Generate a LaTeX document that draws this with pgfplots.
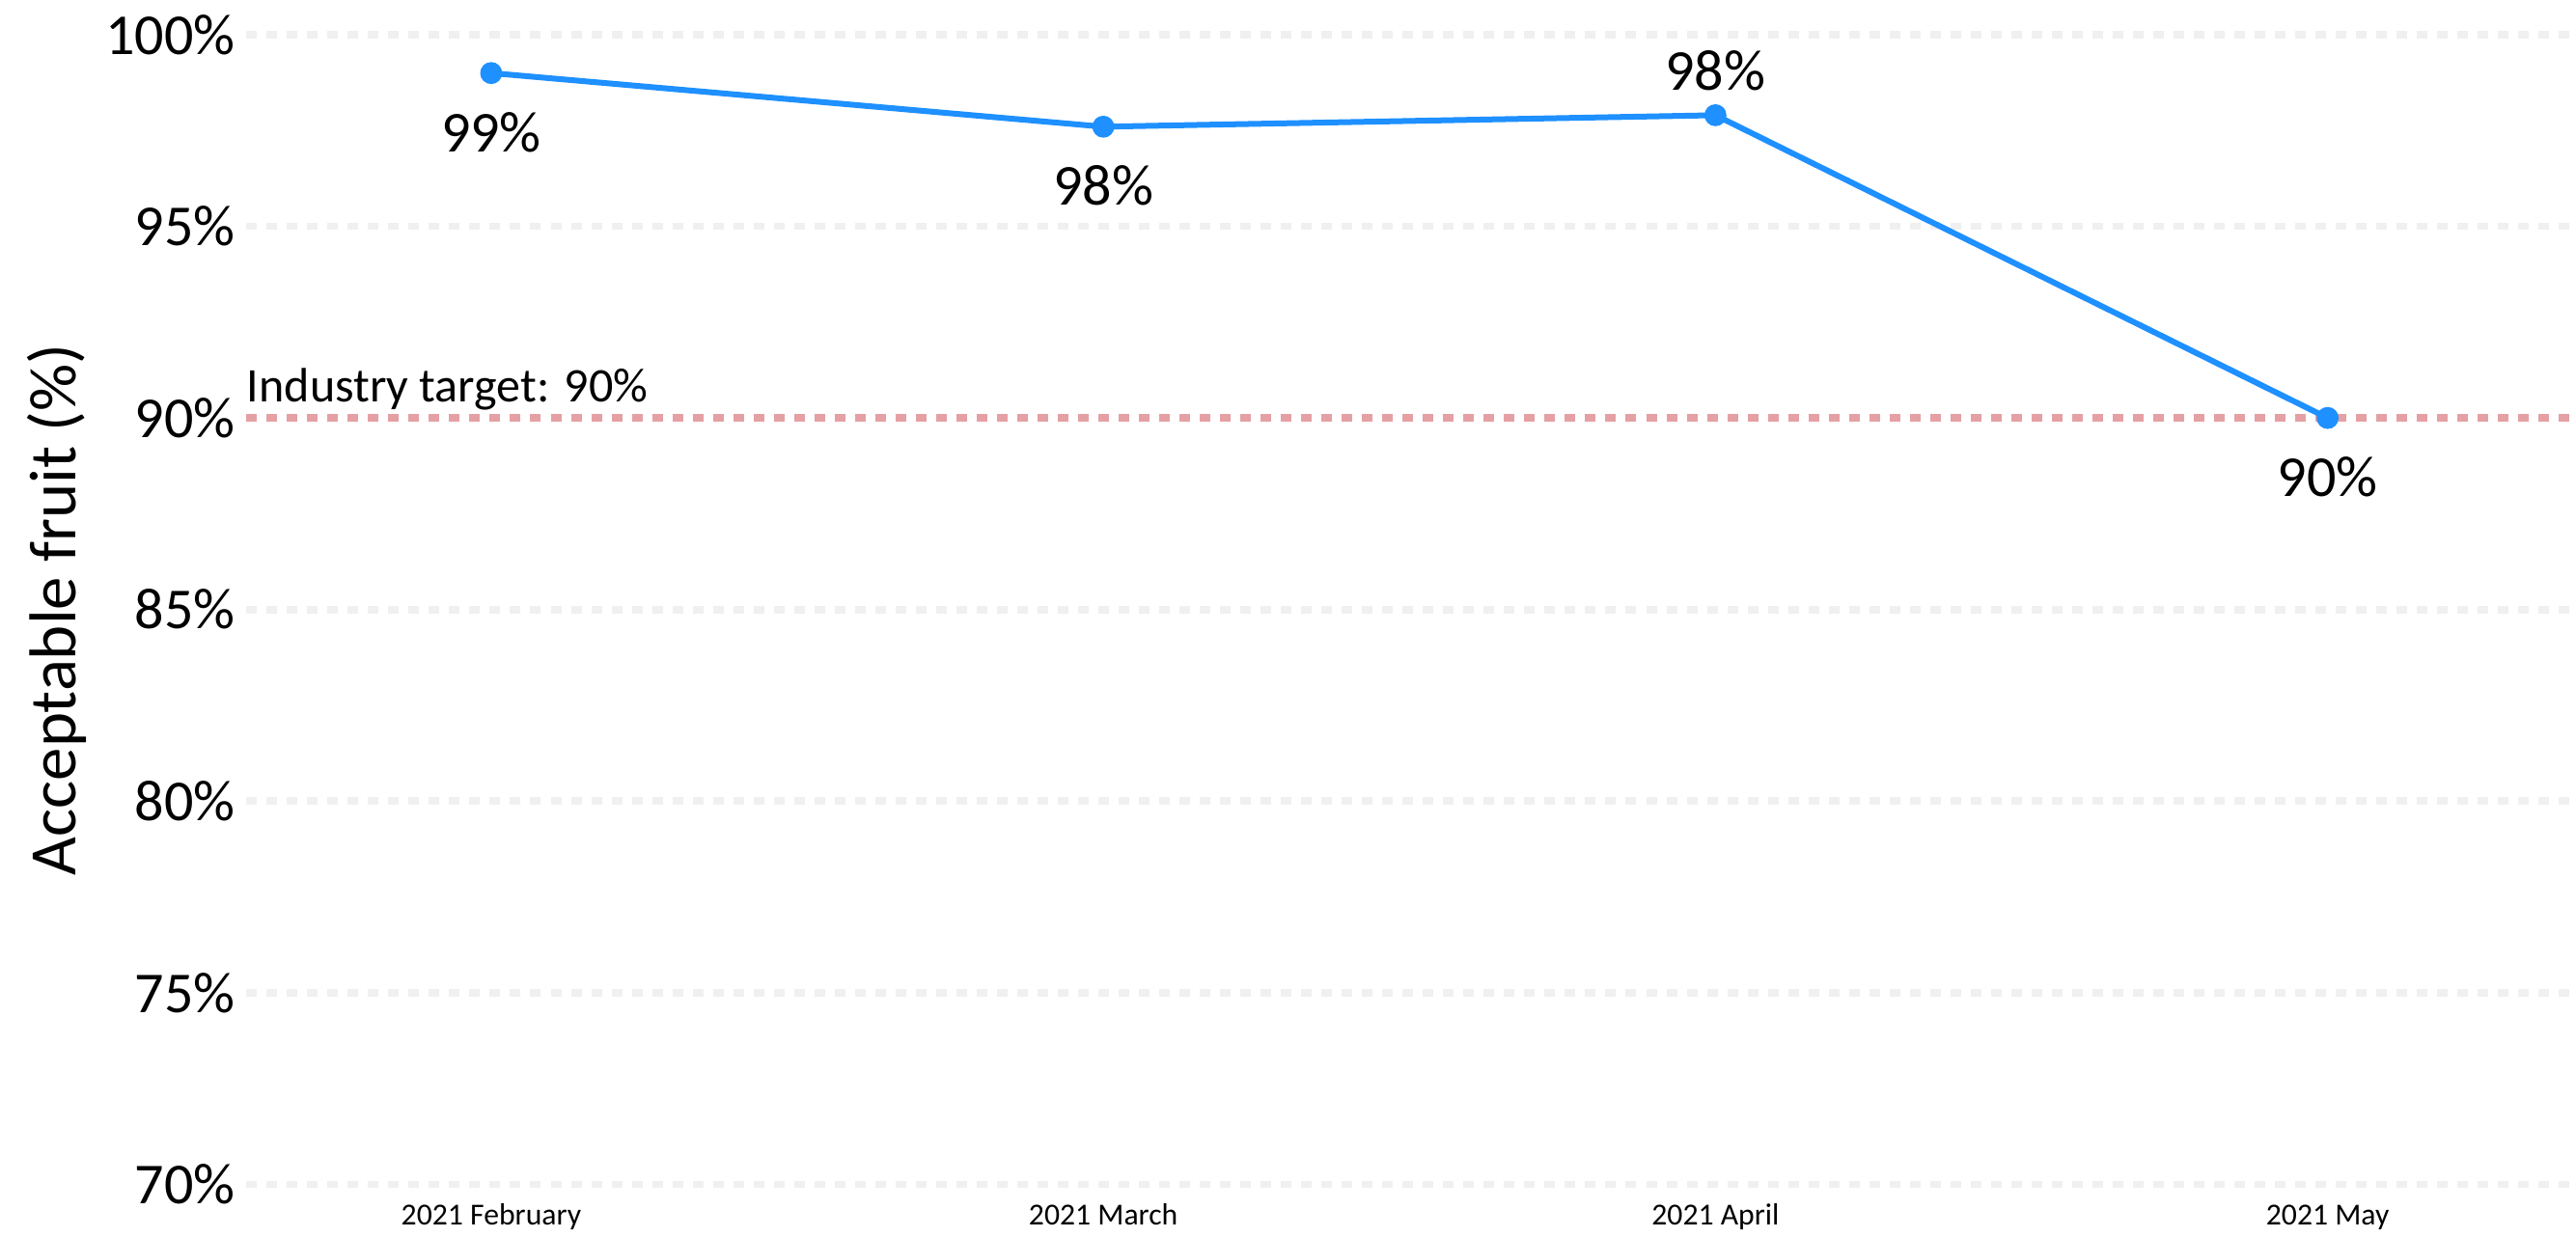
\documentclass[border=0pt]{standalone}
\usepackage{fontspec}
\setmainfont{Carlito}
\usepackage{pgfplots}
\pgfplotsset{compat=1.18}
\definecolor{lineblue}{RGB}{30,144,255}
\definecolor{targetred}{RGB}{229,160,164}
\definecolor{gridgray}{RGB}{240,240,240}
\begin{document}
\begin{tikzpicture}
\useasboundingbox (-76.5pt,-16.3pt) rectangle (723.5pt,367.9pt);
\begin{axis}[
  at={(0,0)}, anchor=south west,
  scale only axis, width=722.4pt, height=357.1pt,
  xmin=-0.4, xmax=3.4, ymin=70, ymax=100,
  clip=false,
  axis line style={draw=none},
  tick style={draw=none},
  major tick length=0pt,
  ytick={70,75,80,85,90,95,100},
  yticklabels={70\%,75\%,80\%,85\%,90\%,95\%,100\%},
  xtick={0,1,2,3},
  xticklabels={2021 February,2021 March,2021 April,2021 May},
  ymajorgrids,
  grid style={gridgray, line width=2.3pt, dash pattern=on 3.3pt off 3pt},
  yticklabel style={font=\fontsize{18}{21}\selectfont},
  xticklabel style={font=\fontsize{9.5}{11}\selectfont, anchor=base, yshift=-12.5pt},
  ylabel={Acceptable fruit (\%)},
  ylabel style={font=\fontsize{20.6}{24}\selectfont, at={(axis description cs:-0.0813,0.5)}, anchor=center},
]
\addplot[targetred, line width=2.3pt, dash pattern=on 3.3pt off 3pt, forget plot] coordinates {(-0.4,90) (3.4,90)};
\addplot[lineblue, line width=1.8pt, mark=*, mark size=2.5pt, mark options={fill=lineblue, draw=lineblue}] coordinates {(0,99.0) (1,97.6) (2,97.9) (3,90.0)};
\addplot[draw=none, mark=none, nodes near coords={\pgfplotspointmeta\%}, point meta=explicit symbolic,
  nodes near coords style={font=\fontsize{18}{21}\selectfont, anchor=center, yshift=-18.4pt, text=black}]
  table[meta=label] {
x y label
0 99.0 99
1 97.6 98
3 90.0 90
};
\addplot[draw=none, mark=none, nodes near coords={\pgfplotspointmeta\%}, point meta=explicit symbolic,
  nodes near coords style={font=\fontsize{18}{21}\selectfont, anchor=center, yshift=13.8pt, text=black}]
  table[meta=label] {
x y label
2 97.9 98
};
\node[anchor=base west, inner sep=0pt, font=\fontsize{15}{18}\selectfont, yshift=5.1pt] at (axis cs:-0.4,90) {Industry target: 90\%};
\end{axis}
\end{tikzpicture}
\end{document}
